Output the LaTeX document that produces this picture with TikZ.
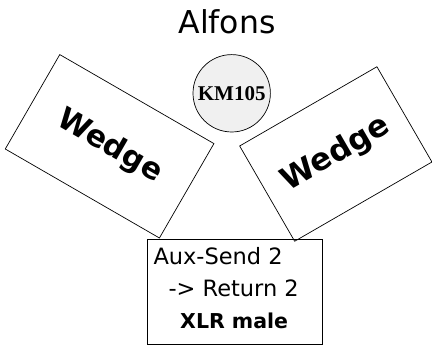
\documentclass[tikz,border=0pt]{standalone}
\usepackage{fontspec}
\newfontfamily\dvs{DejaVu Sans}
\newfontfamily\tms{Liberation Serif}
\begin{document}
\begin{tikzpicture}[x=1pt,y=1pt,
  wedgebox/.style={draw, line width=0.7pt, rectangle, inner sep=0pt, font=\dvs\bfseries\fontsize{30}{36}\selectfont},
  txt/.style={inner sep=0pt, anchor=base west}]
\useasboundingbox (0,0) rectangle (432,347);
\node[txt] (title) at (178.3,313.7) {\dvs\fontsize{31.5}{36}\selectfont Alfons};
\node[wedgebox, minimum width=178pt, minimum height=109pt, rotate=-30] (wl) at (109.6,200.7) {Wedge};
\node[wedgebox, minimum width=158.5pt, minimum height=110pt, rotate=30, font=\dvs\bfseries\fontsize{31}{36}\selectfont] (wr) at (335.8,193) {Wedge};
\node[draw, line width=0.7pt, circle, fill=black!6, minimum size=77.4pt, inner sep=0pt, font=\tms\bfseries\fontsize{21}{24}\selectfont] (mic) at (231.7,253.7) {KM105};
\node[draw, line width=0.7pt, rectangle, minimum width=174.6pt, minimum height=105pt, inner sep=0pt] (aux) at (235,55.2) {};
\node[txt, font=\dvs\fontsize{22.5}{27}\selectfont] (l1) at (153.3,82) {Aux-Send 2};
\node[txt, font=\dvs\fontsize{22.5}{27}\selectfont] (l2) at (168.3,50.3) {-> Return 2};
\node[txt, font=\dvs\bfseries\fontsize{20.5}{24}\selectfont] (l3) at (180,18.7) {XLR male};
\end{tikzpicture}
\end{document}
